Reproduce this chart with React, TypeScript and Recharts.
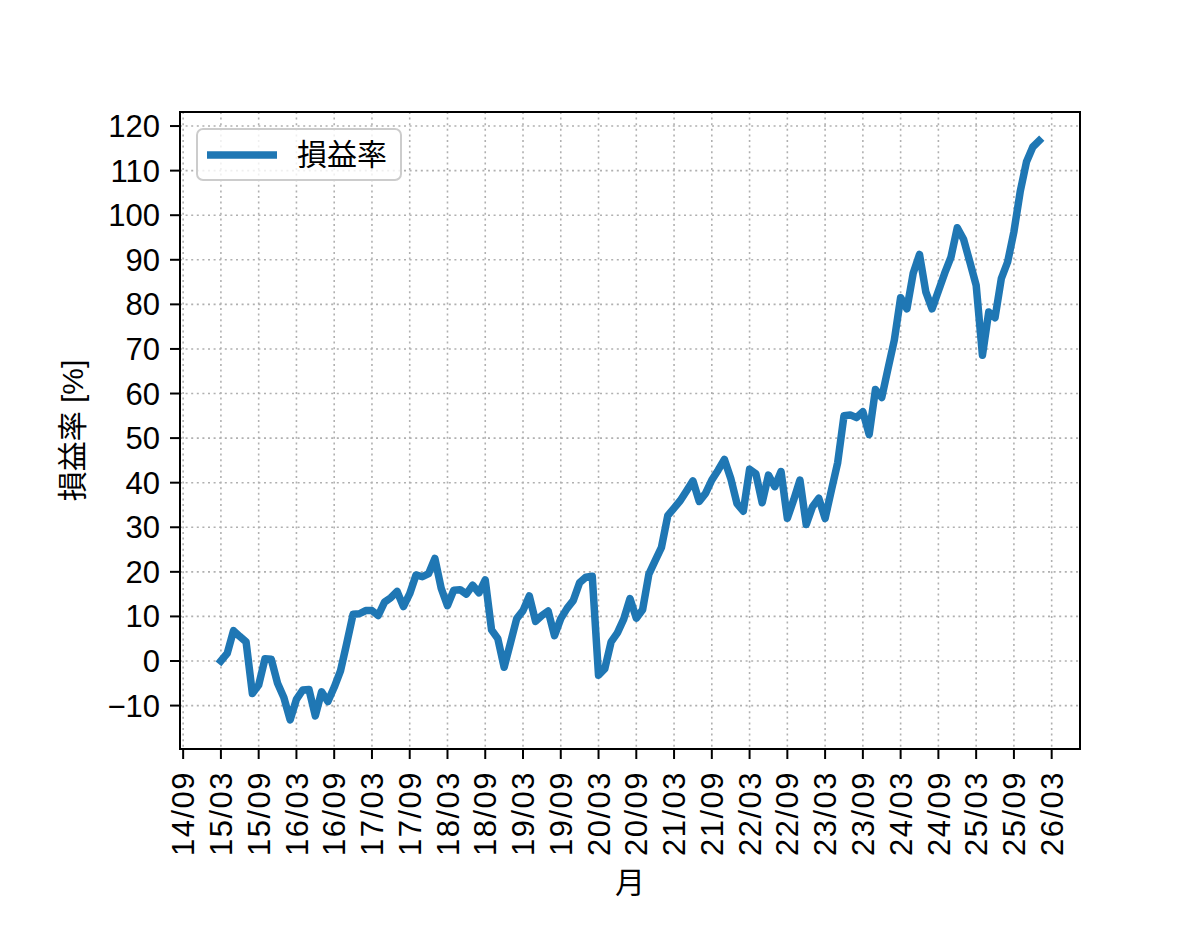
import React from 'react';
import { LineChart, Line, XAxis, YAxis, CartesianGrid, Legend, ReferenceArea } from 'recharts';

// 月次の損益率 (2015/03 〜 2026/01)
const months = [
  '15/03', '15/04', '15/05', '15/06', '15/07', '15/08', '15/09', '15/10', '15/11', '15/12',
  '16/01', '16/02', '16/03', '16/04', '16/05', '16/06', '16/07', '16/08', '16/09', '16/10', '16/11', '16/12',
  '17/01', '17/02', '17/03', '17/04', '17/05', '17/06', '17/07', '17/08', '17/09', '17/10', '17/11', '17/12',
  '18/01', '18/02', '18/03', '18/04', '18/05', '18/06', '18/07', '18/08', '18/09', '18/10', '18/11', '18/12',
  '19/01', '19/02', '19/03', '19/04', '19/05', '19/06', '19/07', '19/08', '19/09', '19/10', '19/11', '19/12',
  '20/01', '20/02', '20/03', '20/04', '20/05', '20/06', '20/07', '20/08', '20/09', '20/10', '20/11', '20/12',
  '21/01', '21/02', '21/03', '21/04', '21/05', '21/06', '21/07', '21/08', '21/09', '21/10', '21/11', '21/12',
  '22/01', '22/02', '22/03', '22/04', '22/05', '22/06', '22/07', '22/08', '22/09', '22/10', '22/11', '22/12',
  '23/01', '23/02', '23/03', '23/04', '23/05', '23/06', '23/07', '23/08', '23/09', '23/10', '23/11', '23/12',
  '24/01', '24/02', '24/03', '24/04', '24/05', '24/06', '24/07', '24/08', '24/09', '24/10', '24/11', '24/12',
  '25/01', '25/02', '25/03', '25/04', '25/05', '25/06', '25/07', '25/08', '25/09', '25/10', '25/11', '25/12',
  '26/01',
];

const rates = [
  0, 1.7, 6.8, 5.5, 4.3, -7.3, -5.4, 0.5, 0.4, -5,
  -8.2, -13.2, -8.6, -6.5, -6.4, -12.3, -6.9, -9.1, -5.9, -2.2, 4, 10.5,
  10.6, 11.3, 11.3, 10.2, 13.2, 14.2, 15.6, 12.2, 15.1, 19.3, 18.9, 19.6,
  23, 16.3, 12.4, 15.9, 16, 15, 17, 15.3, 18.2, 7, 5, -1.4,
  4, 9.5, 11.3, 14.6, 8.9, 10.2, 11.2, 5.7, 9.5, 11.8, 13.6, 17.6,
  18.8, 19, -3.2, -1.7, 4.3, 6.3, 9.4, 14, 9.6, 11.5, 19.5, 22.5,
  25.5, 32.6, 34.3, 36, 38.2, 40.4, 35.8, 37.6, 40.6, 42.8, 45.2, 41,
  35.3, 33.6, 43, 42, 35.5, 41.7, 39.1, 42.5, 32, 36.1, 40.6, 30.6,
  34.6, 36.5, 32, 38.3, 44.5, 55, 55.2, 54.6, 55.9, 50.8, 60.9, 59.1,
  65.6, 72, 81.5, 79, 87, 91.2, 82.8, 79, 83, 87, 90.6, 97.2,
  94.6, 89.5, 84.3, 68.6, 78.3, 77, 85.8, 89.5, 96.3, 105.3, 112, 115.3,
  116.7,
];

const xTickLabels = [
  '14/09', '15/03', '15/09', '16/03', '16/09', '17/03', '17/09', '18/03', '18/09',
  '19/03', '19/09', '20/03', '20/09', '21/03', '21/09', '22/03', '22/09', '23/03',
  '23/09', '24/03', '24/09', '25/03', '25/09', '26/03',
];

const yTicks = [-10, 0, 10, 20, 30, 40, 50, 60, 70, 80, 90, 100, 110, 120];

const FONT = '"Liberation Sans", "Noto Sans CJK JP", sans-serif';
const FS = 31;
const BLUE = '#1f77b4';

// "YY/MM" -> months since 14/09
const monthIndex = (label: string) => {
  const [yy, mm] = label.split('/').map(Number);
  return (yy - 14) * 12 + (mm - 9);
};

const chartData = months.map((m, i) => ({ m: monthIndex(m), rate: rates[i] }));
const xTicks = xTickLabels.map(monthIndex);

const RotatedTick = ({ x, y, payload }: any) => {
  const label = xTickLabels[xTicks.indexOf(payload.value)] ?? '';
  return (
    <text
      x={x}
      y={y}
      dy="0.36em"
      textAnchor="end"
      letterSpacing={1.5}
      transform={`rotate(-90, ${x}, ${y})`}
      fontFamily={FONT}
      fontSize={FS}
      fill="#000"
    >
      {label}
    </text>
  );
};

const YLabel = ({ viewBox }: any) => {
  const cx = (viewBox?.x ?? 100) - 28;
  const cy = (viewBox?.y ?? 112) + (viewBox?.height ?? 637) / 2;
  return (
    <text
      x={cx}
      y={cy}
      dy="0.36em"
      textAnchor="middle"
      transform={`rotate(-90, ${cx}, ${cy})`}
      fontFamily={FONT}
      fontSize={30}
      fill="#000"
    >
      損益率 [%]
    </text>
  );
};

const XLabel = ({ viewBox }: any) => {
  const cx = (viewBox?.x ?? 180) + (viewBox?.width ?? 900) / 2;
  const cy = (viewBox?.y ?? 749) + 144;
  return (
    <text x={cx} y={cy} textAnchor="middle" fontFamily={FONT} fontSize={30} fill="#000">
      月
    </text>
  );
};

const LegendBox = () => (
  <div
    style={{
      width: 202,
      height: 49,
      boxSizing: 'content-box',
      border: '2px solid #cccccc',
      borderRadius: 7,
      background: 'rgba(255,255,255,0.8)',
      display: 'flex',
      alignItems: 'center',
      fontFamily: FONT,
      fontSize: 30,
      color: '#000',
    }}
  >
    <svg width={99} height={20} style={{ display: 'block' }}>
      <line x1={9} y1={10} x2={79} y2={10} stroke={BLUE} strokeWidth={7.5} />
    </svg>
    <span style={{ lineHeight: 1 }}>損益率</span>
  </div>
);

export default function App() {
  return (
    <div style={{ position: 'absolute', left: 0, top: 0, width: 1200, height: 938, background: '#fff' }}>
      <LineChart
        width={1200}
        height={938}
        data={chartData}
        margin={{ top: 112, right: 120, bottom: 89, left: 100 }}
      >
        <CartesianGrid stroke="#b0b0b0" strokeWidth={1.6} strokeDasharray="2 3.6" />
        <XAxis
          dataKey="m"
          type="number"
          domain={[-0.5, 142.5]}
          allowDataOverflow
          ticks={xTicks}
          interval={0}
          height={100}
          tickSize={10}
          tickMargin={12}
          tick={<RotatedTick />}
          axisLine={{ stroke: '#000', strokeWidth: 2 }}
          tickLine={{ stroke: '#000', strokeWidth: 2 }}
          label={XLabel}
        />
        <YAxis
          type="number"
          domain={[-19.74, 123.15]}
          allowDataOverflow
          ticks={yTicks}
          interval={0}
          width={80}
          tickSize={10}
          tickMargin={10}
          tickFormatter={(v: number) => (v < 0 ? `\u2212${-v}` : `${v}`)}
          tick={{ fontFamily: FONT, fontSize: FS, fill: '#000' }}
          axisLine={{ stroke: '#000', strokeWidth: 2 }}
          tickLine={{ stroke: '#000', strokeWidth: 2 }}
          label={YLabel}
        />
        <ReferenceArea
          x1={-0.5}
          x2={142.5}
          y1={-19.74}
          y2={123.15}
          fill="none"
          stroke="#000"
          strokeWidth={2}
          ifOverflow="visible"
        />
        <Legend
          layout="horizontal"
          verticalAlign="middle"
          align="center"
          content={<LegendBox />}
          wrapperStyle={{ position: 'absolute', left: 196, top: 128, width: 'auto', height: 'auto' }}
        />
        <Line
          type="linear"
          dataKey="rate"
          name="損益率"
          stroke={BLUE}
          strokeWidth={7.5}
          strokeLinecap="square"
          strokeLinejoin="round"
          dot={false}
          activeDot={false}
          isAnimationActive={false}
        />
      </LineChart>
    </div>
  );
}
